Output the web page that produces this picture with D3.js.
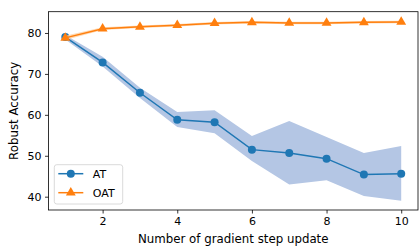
<!DOCTYPE html>
<html lang="en">
<head>
<meta charset="utf-8">
<title>Robust Accuracy</title>
<script src="https://d3js.org/d3.v7.min.js"></script>
<style>
  body { margin: 0; background: #fff; }
  svg { font-family: "DejaVu Sans", sans-serif; }
</style>
</head>
<body>
<div id="vis"></div>
<script>
// data
const steps = [1, 2, 3, 4, 5, 6, 7, 8, 9, 10];
const atMean = [79.0, 72.8, 65.4, 58.8, 58.2, 51.5, 50.7, 49.3, 45.4, 45.6];
const atUpper = [79.5, 74.2, 66.6, 60.7, 61.1, 54.8, 58.5, 54.6, 50.7, 52.4];
const atLower = [78.4, 71.8, 64.1, 57.0, 55.5, 48.7, 43.0, 44.0, 40.2, 39.0];
const oatMean = [78.8, 81.05, 81.5, 81.9, 82.4, 82.6, 82.45, 82.45, 82.6, 82.7];
const oatUpper = [79.3, 81.4, 81.8, 82.2, 82.7, 82.9, 82.75, 82.75, 82.9, 83.0];
const oatLower = [78.3, 80.7, 81.2, 81.6, 82.1, 82.3, 82.15, 82.15, 82.3, 82.4];
const xTicks = [2, 4, 6, 8, 10];
const yTicks = [40, 50, 60, 70, 80];

const width = 419, height = 246;
const mLeft = 48.5, mRight = 418, mTop = 11.7, mBottom = 210;

const svg = d3.select("#vis").append("svg")
  .attr("width", width).attr("height", height);

const x = d3.scaleLinear().domain([0.55, 10.45]).range([mLeft, mRight]);
const y = d3.scaleLinear().domain([36.75, 85.2]).range([mBottom, mTop]);

const band = (lo, hi) => d3.area()
  .x((d, i) => x(steps[i]))
  .y0((d, i) => y(lo[i]))
  .y1((d, i) => y(hi[i]))(steps);
const line = vals => d3.line()
  .x((d, i) => x(steps[i]))
  .y((d, i) => y(vals[i]))(steps);

// AT
svg.append("path").attr("d", band(atLower, atUpper))
  .attr("fill", "#b4c6e4");
svg.append("path").attr("d", line(atMean))
  .attr("fill", "none").attr("stroke", "#1f77b4").attr("stroke-width", 1.5);
svg.append("g").selectAll("circle")
  .data(steps)
  .join("circle")
  .attr("cx", d => x(d))
  .attr("cy", (d, i) => y(atMean[i]))
  .attr("r", 4)
  .attr("fill", "#1f77b4");

// OAT
svg.append("path").attr("d", band(oatLower, oatUpper))
  .attr("fill", "#ffcf9f").attr("opacity", 0.8);
svg.append("path").attr("d", line(oatMean))
  .attr("fill", "none").attr("stroke", "#ff7f0e").attr("stroke-width", 1.5);
const tri = d3.symbol().type(d3.symbolTriangle).size(42);
svg.append("g").selectAll("path")
  .data(steps)
  .join("path")
  .attr("d", tri)
  .attr("transform", (d, i) => `translate(${x(d)},${y(oatMean[i])})`)
  .attr("fill", "#ff7f0e");

// axes
const xAxis = svg.append("g")
  .attr("transform", `translate(0,${mBottom})`)
  .call(d3.axisBottom(x).tickValues(xTicks).tickSize(3.5).tickPadding(3.5).tickSizeOuter(0));
const yAxis = svg.append("g")
  .attr("transform", `translate(${mLeft},0)`)
  .call(d3.axisLeft(y).tickValues(yTicks).tickSize(3.5).tickPadding(3.5).tickSizeOuter(0));
[xAxis, yAxis].forEach(g => {
  g.select(".domain").remove();
  g.selectAll("line").attr("stroke", "#000").attr("stroke-width", 0.8);
  g.selectAll("text").attr("fill", "#000")
    .style("font-family", "DejaVu Sans").style("font-size", "11px");
});

// frame
svg.append("rect")
  .attr("x", mLeft).attr("y", mTop)
  .attr("width", mRight - mLeft).attr("height", mBottom - mTop)
  .attr("fill", "none").attr("stroke", "#000").attr("stroke-width", 0.8);

// labels
svg.append("text")
  .attr("x", (mLeft + mRight) / 2).attr("y", 243)
  .attr("text-anchor", "middle").attr("font-size", "11.8px")
  .text("Number of gradient step update");
svg.append("text")
  .attr("transform", `translate(18,${(mTop + mBottom) / 2}) rotate(-90)`)
  .attr("text-anchor", "middle").attr("font-size", "11.8px")
  .text("Robust Accuracy");

// legend
const lg = svg.append("g").attr("transform", "translate(54.3,164.7)");
lg.append("rect").attr("width", 68.4).attr("height", 39.3)
  .attr("rx", 2.5).attr("fill", "#fff").attr("fill-opacity", 0.8)
  .attr("stroke", "#d0d0d0").attr("stroke-width", 0.8);
const items = [
  { name: "AT", color: "#1f77b4", shape: "circle" },
  { name: "OAT", color: "#ff7f0e", shape: "triangle" }
];
items.forEach((it, i) => {
  const yy = 9 + i * 19;
  lg.append("line").attr("x1", 4).attr("x2", 29).attr("y1", yy).attr("y2", yy)
    .attr("stroke", it.color).attr("stroke-width", 1.5);
  if (it.shape === "circle") {
    lg.append("circle").attr("cx", 16.5).attr("cy", yy).attr("r", 4).attr("fill", it.color);
  } else {
    lg.append("path").attr("d", tri).attr("transform", `translate(16.5,${yy})`).attr("fill", it.color);
  }
  lg.append("text").attr("x", 38.5).attr("y", yy + 4)
    .attr("font-size", "11px").text(it.name);
});
</script>
</body>
</html>
